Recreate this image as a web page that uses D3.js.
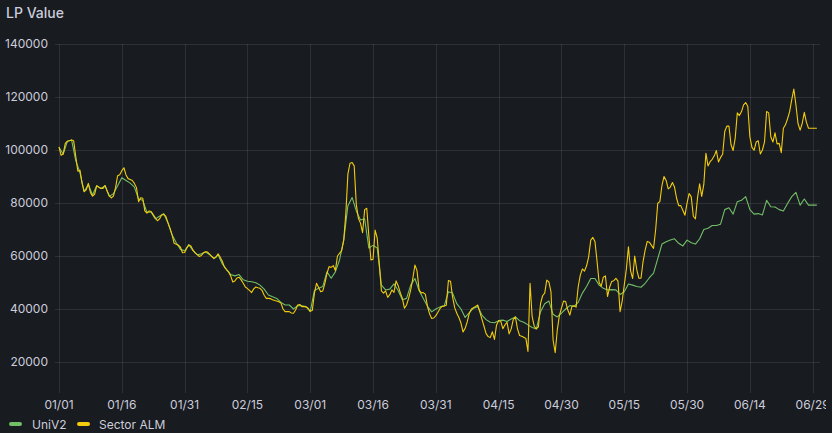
<!DOCTYPE html>
<html><head><meta charset="utf-8">
<script src="https://cdn.jsdelivr.net/npm/d3@7"></script>
<style>
html,body{margin:0;padding:0;background:#181b1f;}
svg{display:block;font-family:Inter,"Open Sans",sans-serif;}
</style></head><body>
<svg id="c" width="832" height="433"></svg>
<script>
const title = "LP Value";
const seriesNames = ["UniV2", "Sector ALM"];
const seriesColors = ["#73BF69", "#F2CC0C"];
const startDate = "2024-01-01";
const uniV2StepHours = 24;
const sectorStepHours = 12;

const uniV2 = [
101000,98500,103300,103800,96000,91500,84300,87000,83000,86500,
85500,86500,82500,83500,86500,89500,88500,87500,86000,81500,
81000,76500,76500,74000,75000,76000,72500,68000,65000,62500,
62000,64300,62000,60500,60800,61500,60500,59000,60500,57000,
55000,53000,52500,53000,51000,50500,
50300,49900,49000,47500,45300,44600,44000,42500,41500,41500,
40000,41300,41200,40900,39000,47000,47800,48500,54000,51600,
54000,58500,66000,79000,82100,77000,73600,74000,63000,64000,
63000,49000,47200,47500,49500,47000,43500,44000,49000,51500,
47000,44000,41000,38900,40000,
40800,41200,46500,46000,42000,40000,36800,38600,40300,40900,
37700,36000,35000,34800,35600,35800,35300,36200,37000,35600,
35000,34000,33000,32500,39000,42000,43000,38000,37000,38400,
40000,41300,41000,42500,46000,48500,51500,51500,49000,47800,
47200,47300,47200,45500,46500,49400,
49000,48500,48200,49700,51800,53500,59000,64500,65400,66000,
66500,64800,63800,66000,65000,64500,66500,70000,70500,71500,
71500,72000,77500,78200,75800,80500,81000,82400,77500,75800,
76000,75500,81000,78600,78500,77500,77000,79800,82400,84000,
79200,81500,79200,79200,79200
];

const sectorALM = [
101200,98000,98500,102500,103300,103500,103800,103500,97500,92000,
92400,87500,84300,85000,87400,84000,82600,83300,86500,86000,
85500,85500,86600,84500,82700,81900,82600,85800,90300,90700,
92200,93300,90600,89200,88900,88500,87400,85800,80500,82000,
81800,77000,76200,77000,76800,75600,74400,73300,74000,75500,
75700,75000,72700,70500,68000,64800,64400,64100,63300,61200,
61300,62900,64100,63800,62200,61200,60500,59800,60200,61200,
61600,61500,60600,59800,59100,59500,60800,59500,58000,55800,
54800,54000,52500,50200,50600,51700,52000,51000,49700,48300,
47700,47000,46200,47600,48300,48000,47800,47000,45200,44000,
44000,43900,43500,43200,43000,42700,42300,40000,39000,39000,
39000,38500,38400,39600,41500,41700,40900,40900,40800,40300,
39100,39500,46000,49700,48100,46500,46800,49700,53500,56000,
55700,56400,54500,60000,61000,62000,66000,76000,91000,95000,
95300,94000,79500,74200,72400,68800,77500,78000,67500,58500,
58800,69800,66700,57000,46800,46000,46800,44400,45400,47200,
46300,50600,48800,46200,44000,40300,41500,44000,47200,51500,
56600,54500,47200,46100,46200,45500,41000,38200,36400,36600,
37500,38800,40200,41000,41100,41400,50700,50500,44500,40500,
38400,36800,34700,31300,32700,35200,38400,40000,40500,41000,
41500,38900,36200,33500,30700,29600,29200,31400,28500,34000,
35600,35400,32600,34000,35000,30600,32500,36100,37000,32500,
30000,29700,29300,28900,24000,49700,37100,33500,32500,33300,
42000,45000,46000,50900,50200,46500,28300,23500,32000,37500,
40300,43000,42800,39700,37700,41000,41200,40700,48400,52800,
55100,54300,56300,59700,66000,67000,65500,58000,50000,48600,
52000,52500,44700,48200,50400,50700,51600,50500,39000,43000,
49000,55000,63500,54500,51500,60000,54700,51600,51600,58000,
62300,65500,65200,64000,62900,70000,79900,80500,86600,90000,
88500,85300,86000,87700,86000,81800,79000,79000,77200,75400,
80000,83600,82300,75000,74000,82000,87200,82500,87000,98800,
94000,95600,96500,97800,99800,95500,97200,98400,107000,109000,
109000,102000,99800,104500,114000,113000,114500,117000,117900,116500,
105000,101000,99900,103000,103500,98500,100000,103100,114500,114000,
105000,103000,106500,102300,102500,99000,108200,109500,111800,114500,
119000,123000,117000,110000,107500,110000,114200,110500,108200,108200,
108200,108200,108200
];

const xTickDates = ["2024-01-01","2024-01-16","2024-01-31","2024-02-15","2024-03-01","2024-03-16","2024-03-31","2024-04-15","2024-04-30","2024-05-15","2024-05-30","2024-06-14","2024-06-29"];
const xTickLabels = ["01/01","01/16","01/31","02/15","03/01","03/16","03/31","04/15","04/30","05/15","05/30","06/14","06/29"];
const yTicks = [20000, 40000, 60000, 80000, 100000, 120000, 140000];
const yTickLabels = ["20000","40000","60000","80000","100000","120000","140000"];
const xDomain = ["2023-12-31T01:00", "2024-06-30T18:00"];
const yDomain = [8300, 140000];

const W = 832, H = 433;
const plot = {left: 55, right: 820, top: 44, bottom: 393};
const textColor = "#ccccdc";
const gridColor = "rgba(204,204,220,0.12)";

const parseDay = d3.timeParse("%Y-%m-%d");
const parseDT = d3.timeParse("%Y-%m-%dT%H:%M");
const start = parseDay(startDate);

const x = d3.scaleTime().domain(xDomain.map(parseDT)).range([plot.left, plot.right]);
const y = d3.scaleLinear().domain(yDomain).range([plot.bottom, plot.top]);

const svg = d3.select("#c");
svg.append("rect").attr("width", W).attr("height", H).attr("fill", "#181b1f");

svg.append("text").attr("x", 6).attr("y", 18).attr("fill", textColor)
  .attr("font-size", 14).attr("font-weight", 500).text(title);

// grid
const grid = svg.append("g");
grid.selectAll("line.h").data(yTicks).join("line")
  .attr("x1", plot.left).attr("x2", plot.right)
  .attr("y1", d => Math.round(y(d)) + 0.5).attr("y2", d => Math.round(y(d)) + 0.5)
  .attr("stroke", gridColor).attr("stroke-width", 1);
const xt = xTickDates.map(parseDay);
grid.selectAll("line.v").data(xt).join("line")
  .attr("y1", plot.top).attr("y2", plot.bottom)
  .attr("x1", d => Math.round(x(d)) + 0.5).attr("x2", d => Math.round(x(d)) + 0.5)
  .attr("stroke", gridColor).attr("stroke-width", 1);

// y labels
svg.append("g").selectAll("text").data(yTicks).join("text")
  .attr("x", 48).attr("y", d => y(d)).attr("dy", "0.35em")
  .attr("text-anchor", "end").attr("fill", textColor).attr("font-size", 12)
  .text((d, i) => yTickLabels[i]);

// x labels (clipped at right)
svg.append("clipPath").attr("id", "xclip").append("rect")
  .attr("x", 0).attr("y", 0).attr("width", 826).attr("height", H);
svg.append("g").attr("clip-path", "url(#xclip)").selectAll("text").data(xt).join("text")
  .attr("x", d => x(d)).attr("y", 408.5)
  .attr("text-anchor", "middle").attr("fill", textColor).attr("font-size", 12)
  .text((d, i) => xTickLabels[i]);

// series
svg.append("clipPath").attr("id", "pclip").append("rect")
  .attr("x", plot.left).attr("y", plot.top - 2)
  .attr("width", plot.right - plot.left).attr("height", plot.bottom - plot.top + 2);

const toPts = (vals, stepH) => vals.map((v, i) => ({date: d3.timeHour.offset(start, i * stepH), value: v}));
const series = [toPts(uniV2, uniV2StepHours), toPts(sectorALM, sectorStepHours)];
const line = d3.line().x(d => x(d.date)).y(d => y(d.value));
const g = svg.append("g").attr("clip-path", "url(#pclip)");
series.forEach((s, i) => {
  g.append("path").attr("d", line(s)).attr("fill", "none")
    .attr("stroke", seriesColors[i]).attr("stroke-width", 1.1)
    .attr("stroke-linejoin", "round");
});

// legend
const leg = svg.append("g");
const legX = [9, 77];
const legTextX = [32, 99];
seriesNames.forEach((n, i) => {
  leg.append("rect").attr("x", legX[i]).attr("y", 422).attr("width", 13).attr("height", 4)
    .attr("rx", 2).attr("fill", seriesColors[i]);
  leg.append("text").attr("x", legTextX[i]).attr("y", 428.5).attr("fill", textColor)
    .attr("font-size", 12).text(n);
});
</script>
</body></html>
